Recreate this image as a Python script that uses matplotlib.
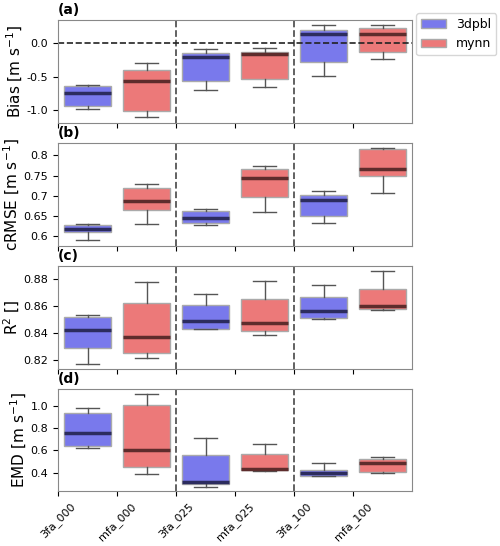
import numpy as np
import matplotlib
matplotlib.use("Agg")
import matplotlib.pyplot as plt
from matplotlib.patches import Patch

plt.rcParams["font.size"] = 8

labels = ["3fa_000", "mfa_000", "3fa_025", "mfa_025", "3fa_100", "mfa_100"]
models = ["3dpbl", "mynn", "3dpbl", "mynn", "3dpbl", "mynn"]

# box stats per experiment: [whislo, q1, med, q3, whishi]
bias = [
    [-0.98, -0.94, -0.75, -0.64, -0.62],
    [-1.11, -1.01, -0.57, -0.40, -0.30],
    [-0.70, -0.56, -0.21, -0.15, -0.09],
    [-0.65, -0.54, -0.17, -0.14, -0.07],
    [-0.49, -0.29, 0.14, 0.19, 0.27],
    [-0.24, -0.13, 0.14, 0.23, 0.27],
]
crmse = [
    [0.590, 0.610, 0.618, 0.627, 0.631],
    [0.630, 0.664, 0.686, 0.718, 0.730],
    [0.627, 0.633, 0.645, 0.662, 0.668],
    [0.661, 0.698, 0.745, 0.767, 0.774],
    [0.634, 0.650, 0.689, 0.702, 0.713],
    [0.707, 0.748, 0.766, 0.815, 0.819],
]
r2 = [
    [0.817, 0.829, 0.842, 0.852, 0.853],
    [0.821, 0.825, 0.837, 0.862, 0.878],
    [0.843, 0.843, 0.849, 0.861, 0.869],
    [0.838, 0.841, 0.847, 0.865, 0.879],
    [0.850, 0.851, 0.856, 0.867, 0.876],
    [0.857, 0.858, 0.860, 0.873, 0.886],
]
emd = [
    [0.620, 0.641, 0.753, 0.940, 0.985],
    [0.391, 0.448, 0.599, 1.012, 1.111],
    [0.273, 0.298, 0.319, 0.557, 0.707],
    [0.415, 0.421, 0.436, 0.569, 0.653],
    [0.367, 0.373, 0.397, 0.424, 0.487],
    [0.394, 0.406, 0.484, 0.524, 0.542],
]

panels = [
    ("(a)", bias, "Bias [m s$^{-1}$]", (-1.19, 0.34), [-1.0, -0.5, 0.0], ["-1.0", "-0.5", "0.0"]),
    ("(b)", crmse, "cRMSE [m s$^{-1}$]", (0.577, 0.830), [0.6, 0.65, 0.7, 0.75, 0.8], ["0.6", "0.65", "0.7", "0.75", "0.8"]),
    ("(c)", r2, "R$^2$ []", (0.8133, 0.890), [0.82, 0.84, 0.86, 0.88], ["0.82", "0.84", "0.86", "0.88"]),
    ("(d)", emd, "EMD [m s$^{-1}$]", (0.231, 1.154), [0.4, 0.6, 0.8, 1.0], ["0.4", "0.6", "0.8", "1.0"]),
]

fill = {"3dpbl": "#7979ec", "mynn": "#ec7979"}
med_col = {"3dpbl": "#2c2c5e", "mynn": "#5e2c2c"}

fig = plt.figure(figsize=(5.0, 5.46), dpi=100)
tops = [0.963, 0.738, 0.513, 0.288]
h = 0.188
axes = []

for k, (tag, data, ylab, ylim, yt, ytl) in enumerate(panels):
    ax = fig.add_axes([0.116, tops[k] - h, 0.708, h])
    axes.append(ax)
    for i, d in enumerate(data):
        st = dict(whislo=d[0], q1=d[1], med=d[2], q3=d[3], whishi=d[4], fliers=[])
        m = models[i]
        ax.bxp([st], positions=[i + 0.5], widths=0.8, patch_artist=True,
               showfliers=False, capwidths=0.4,
               boxprops=dict(facecolor=fill[m], edgecolor="#aaaaaa", linewidth=1.0),
               whiskerprops=dict(color="#555555", linewidth=1.0),
               capprops=dict(color="#555555", linewidth=1.0),
               medianprops=dict(color=med_col[m], linewidth=2.5))
    for xv in [2, 4]:
        ax.axvline(xv, color="#555555", linestyle="--", linewidth=1.3)
    if k == 0:
        ax.axhline(0, color="#222222", linestyle="--", linewidth=1.2)
    ax.set_xlim(0, 6)
    ax.set_ylim(*ylim)
    ax.set_yticks(yt)
    ax.set_yticklabels(ytl)
    ax.set_xticks(np.arange(6))
    if k == 3:
        ax.set_xticklabels(labels, rotation=45)
    else:
        ax.set_xticklabels([])
    ax.set_ylabel(ylab, fontsize=11, labelpad=1)
    ax.text(0.0, 1.03, tag, transform=ax.transAxes, fontsize=10,
            fontweight="bold", ha="left", va="bottom")
    for sp in ax.spines.values():
        sp.set_color("#888888")

fig.align_ylabels(axes)

handles = [Patch(facecolor=fill["3dpbl"], edgecolor="#aaaaaa", label="3dpbl"),
           Patch(facecolor=fill["mynn"], edgecolor="#aaaaaa", label="mynn")]
fig.legend(handles=handles, loc="upper left", bbox_to_anchor=(0.832, 0.976),
           fontsize=9, frameon=True, borderaxespad=0.0)

fig.savefig("out.png", dpi=100)
